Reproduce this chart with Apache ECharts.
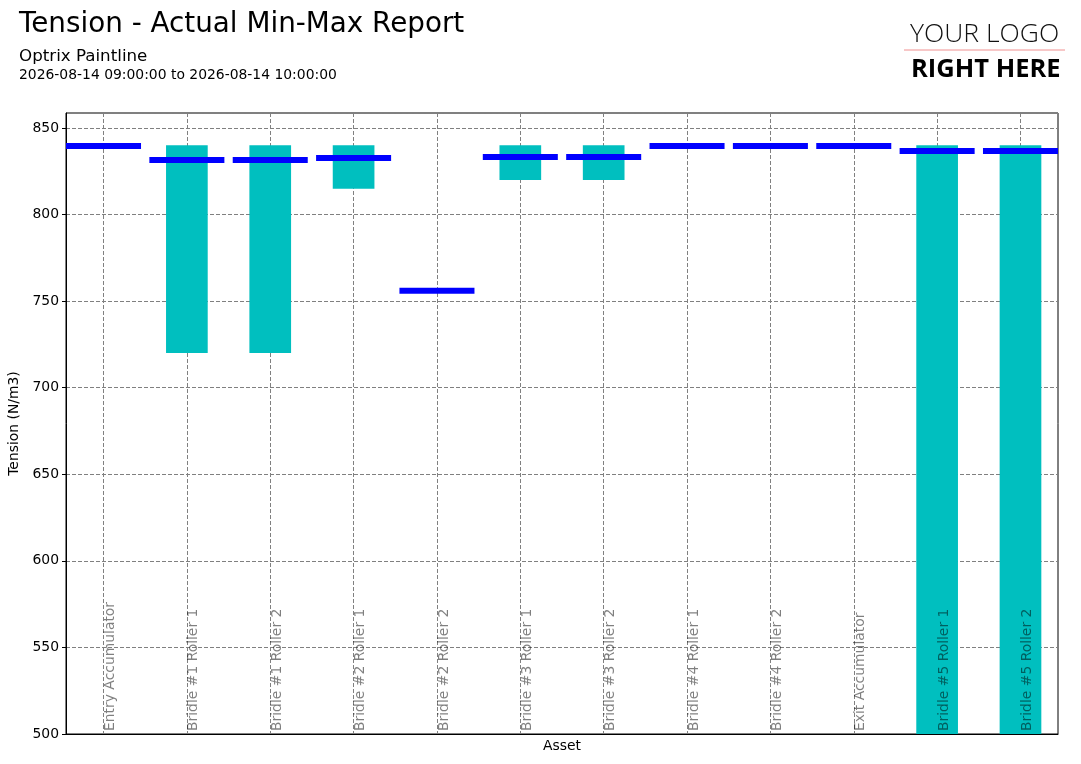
<!DOCTYPE html>
<html>
<head>
<meta charset="utf-8">
<script src="https://cdn.jsdelivr.net/npm/echarts@6/dist/echarts.min.js"></script>
<style>html,body{margin:0;padding:0;background:#fff}#c{width:1081px;height:764px}</style>
</head>
<body>
<div id="c"></div>
<script>
const categories = ['Entry Accumulator','Bridle #1 Roller 1','Bridle #1 Roller 2','Bridle #2 Roller 1','Bridle #2 Roller 2','Bridle #3 Roller 1','Bridle #3 Roller 2','Bridle #4 Roller 1','Bridle #4 Roller 2','Exit Accumulator','Bridle #5 Roller 1','Bridle #5 Roller 2'];
const minValues = [840, 720, 720, 815, 756, 820, 820, 840, 840, 840, 0, 0];
const maxValues = [840, 840, 840, 840, 756, 840, 840, 840, 840, 840, 840, 840];
const avgValues = [839.6, 831.5, 831.5, 832.7, 756, 833.3, 833.3, 839.6, 839.6, 839.6, 836.7, 836.7];

const idx = categories.map((c, i) => i);
const font = 'DejaVu Sans';
const fs = 13.9;

function clipToGrid(r, params) {
  const cs = params.coordSys;
  return echarts.graphic.clipRectByRect(r, {x: cs.x, y: cs.y, width: cs.width, height: cs.height});
}
function renderRange(params, api) {
  const x = api.value(0), lo = api.value(1), hi = api.value(2);
  const a = api.coord([x - 0.25, hi]);
  const b = api.coord([x + 0.25, lo]);
  const r = clipToGrid({x: a[0], y: a[1], width: b[0] - a[0], height: b[1] - a[1]}, params);
  return r ? {type: 'rect', shape: r, style: {fill: '#00bfbf'}} : null;
}
function renderAvg(params, api) {
  const x = api.value(0), v = api.value(1);
  const a = api.coord([x - 0.45, v]);
  const b = api.coord([x + 0.45, v]);
  const r = clipToGrid({x: a[0], y: a[1] - 3, width: b[0] - a[0], height: 6}, params);
  return r ? {type: 'rect', shape: r, style: {fill: '#0000ff'}} : null;
}

const chart = echarts.init(document.getElementById('c'), null, {renderer: 'canvas'});
chart.setOption({
  animation: false,
  textStyle: {fontFamily: font},
  title: [
    {text: 'Tension - Actual Min-Max Report', left: 14, top: 6, textStyle: {fontFamily: font, fontSize: 27.8, fontWeight: 'normal', color: '#000'}},
    {text: 'Optrix Paintline', left: 14, top: 43, textStyle: {fontFamily: font, fontSize: 16.7, fontWeight: 'normal', color: '#000'}},
    {text: '2026-08-14 09:00:00 to 2026-08-14 10:00:00', left: 14, top: 63, textStyle: {fontFamily: font, fontSize: fs, fontWeight: 'normal', color: '#000'}}
  ],
  graphic: [
    {type: 'text', left: 910, top: 21, style: {text: 'YOUR LOGO', font: '300 26.5px "Open Sans", Lato, sans-serif', fill: '#111'}},
    {type: 'line', shape: {x1: 904, y1: 50, x2: 1065, y2: 50}, style: {stroke: '#f09090', lineWidth: 1}},
    {type: 'text', left: 911, top: 57, style: {text: 'RIGHT HERE', font: 'bold 25.5px "Liberation Sans Narrow", "Open Sans", sans-serif', fill: '#000'}}
  ],
  grid: {left: 66, right: 23, top: 113, bottom: 30, show: true, borderColor: '#000', borderWidth: 1, containLabel: false, outerBoundsMode: 'none'},
  xAxis: [{
    type: 'value', min: -0.45, max: 11.45,
    name: 'Asset', nameLocation: 'middle', nameGap: 5,
    nameTextStyle: {fontFamily: font, fontSize: fs, color: '#000', verticalAlign: 'top'},
    axisLine: {show: true, onZero: false, lineStyle: {color: '#000'}},
    axisTick: {show: false, customValues: idx},
    axisLabel: {show: false, customValues: idx},
    splitLine: {show: true, lineStyle: {color: '#808080', type: [4, 2], width: 1}}
  }, {
    type: 'value', min: -0.45, max: 11.45, position: 'bottom', z: 10,
    axisLine: {show: false, onZero: false}, axisTick: {show: false, customValues: idx}, splitLine: {show: false},
    axisLabel: {customValues: idx, formatter: v => categories[Math.round(v)] || '', inside: true, rotate: 90, color: 'rgba(0,0,0,0.5)', fontFamily: font, fontSize: fs, verticalAlign: 'top', align: 'left', margin: 3, showMinLabel: true, showMaxLabel: true}
  }],
  yAxis: {
    type: 'value', min: 500, max: 858.7, interval: 50,
    name: 'Tension (N/m3)', nameLocation: 'middle', nameGap: 44,
    nameTextStyle: {fontFamily: font, fontSize: fs, color: '#000'},
    axisLine: {show: true, onZero: false, lineStyle: {color: '#000'}},
    axisTick: {show: true, length: 4, lineStyle: {color: '#000'}},
    axisLabel: {color: '#000', fontFamily: font, fontSize: fs, showMaxLabel: false, margin: 7},
    splitLine: {show: true, lineStyle: {color: '#808080', type: [4, 2], width: 1}}
  },
  series: [
    {type: 'custom', name: 'Range', renderItem: renderRange, encode: {x: 0, y: [1, 2]}, data: idx.map(i => [i, minValues[i], maxValues[i]]), z: 2},
    {type: 'custom', name: 'Average', renderItem: renderAvg, encode: {x: 0, y: 1}, data: idx.map(i => [i, avgValues[i]]), z: 3}
  ]
});
</script>
</body>
</html>
